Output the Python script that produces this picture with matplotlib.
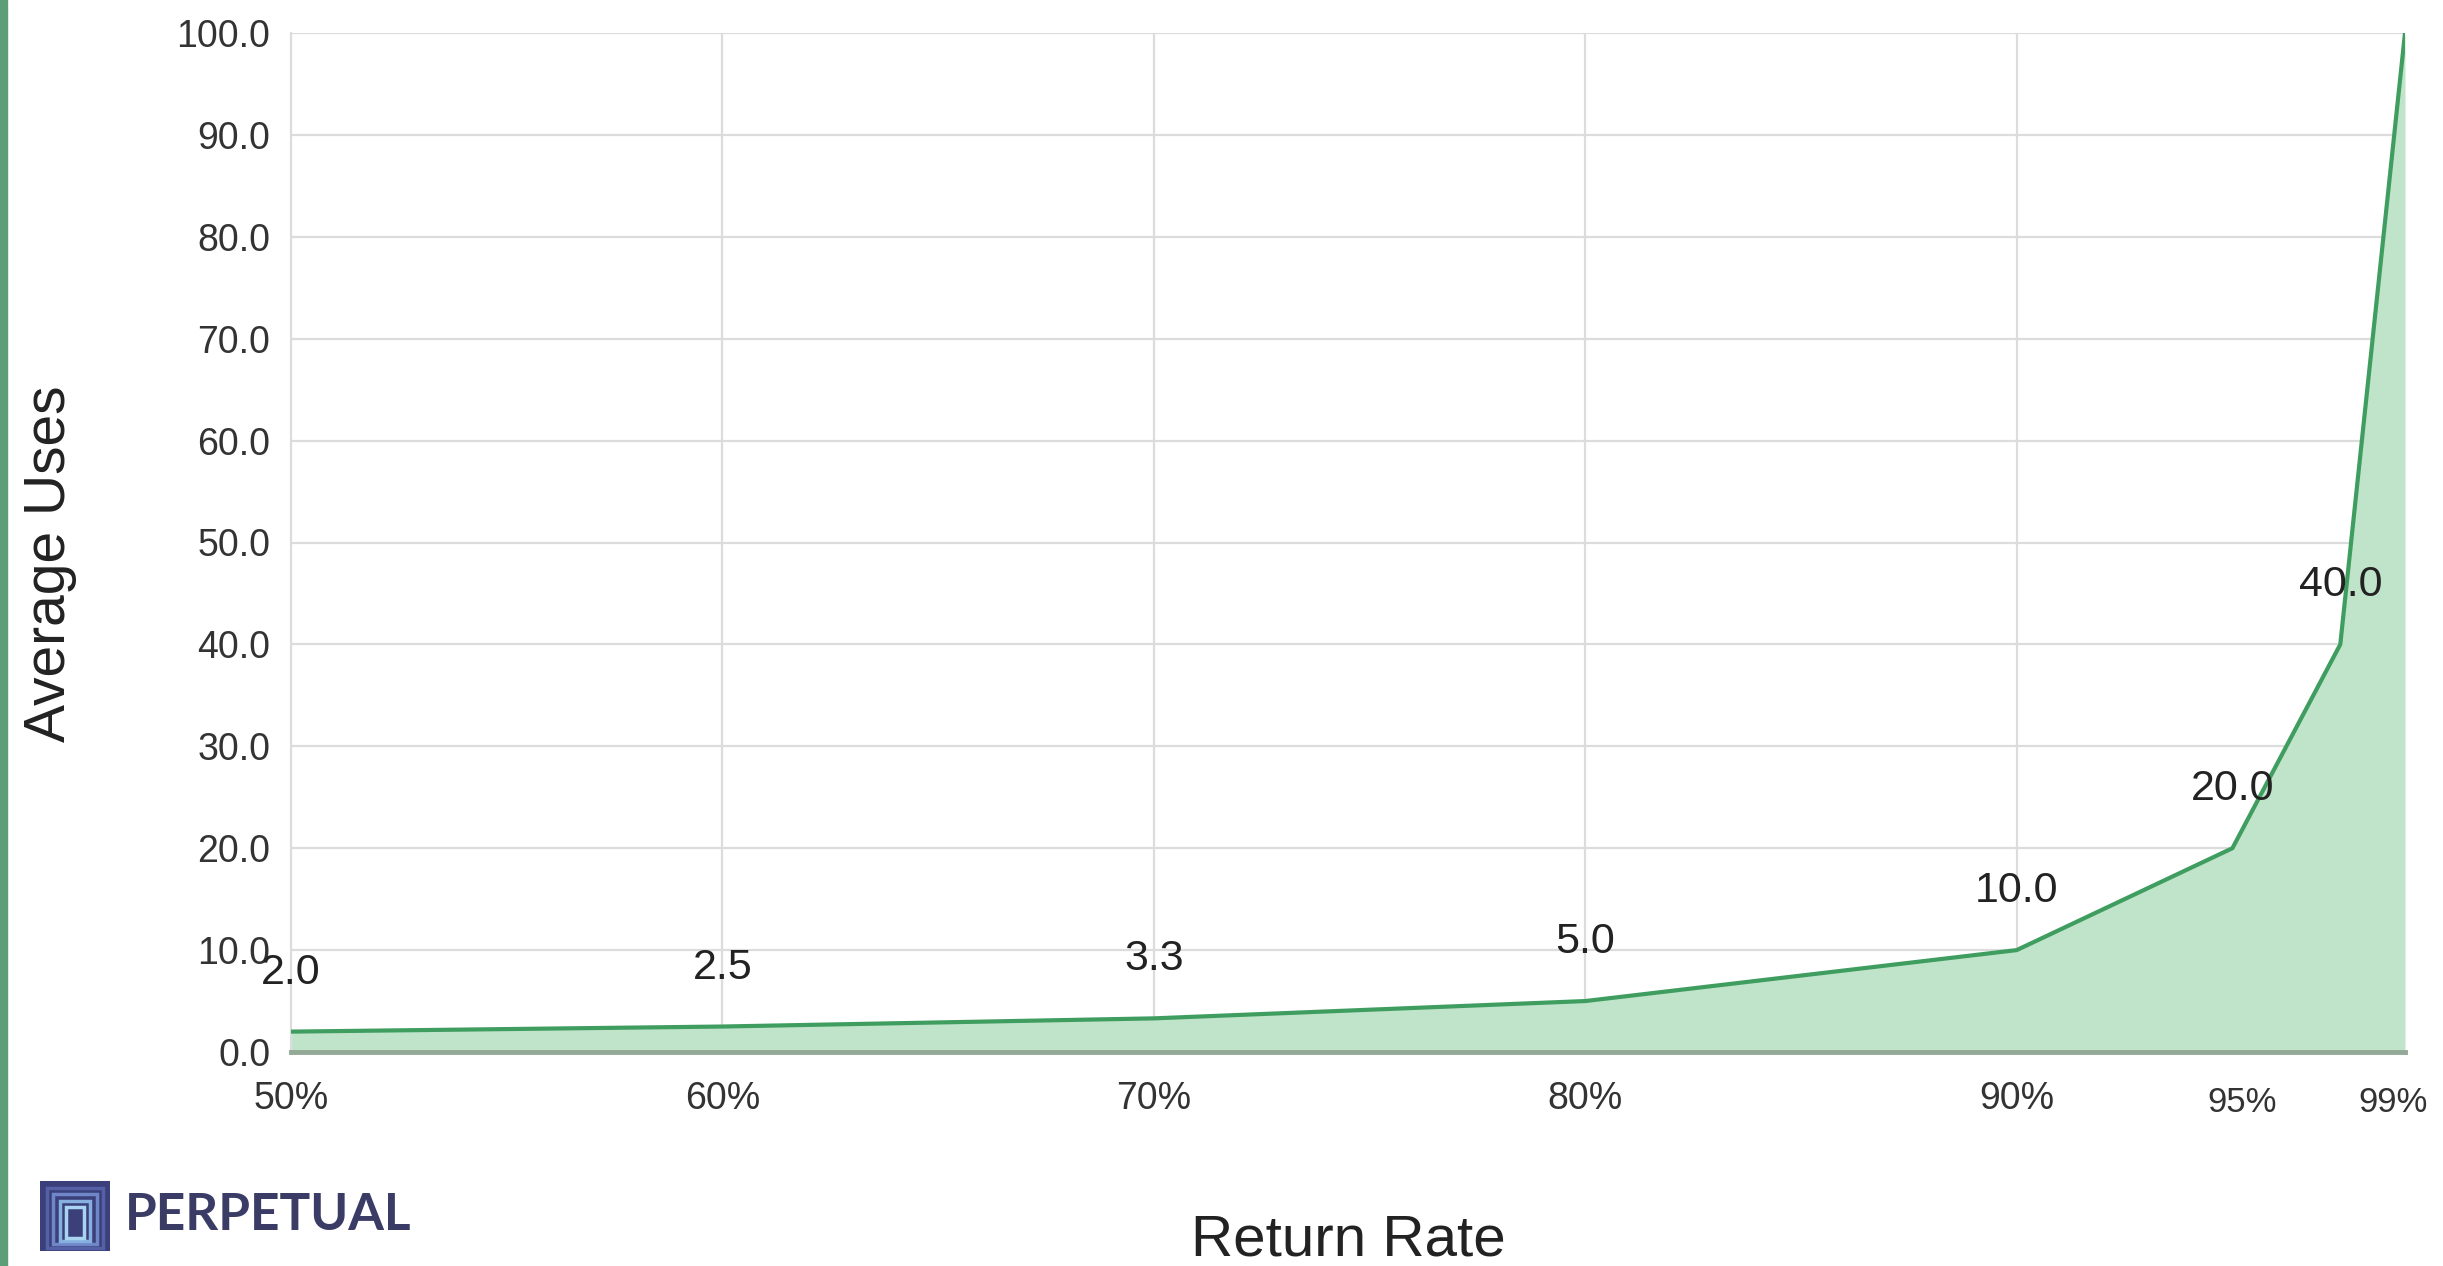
import matplotlib
matplotlib.use("Agg")
import matplotlib.pyplot as plt
from matplotlib.patches import Rectangle

# ---- data ----
return_rate = [50, 60, 70, 80, 90, 95, 97.5, 99]
average_uses = [2.0, 2.5, 3.3, 5.0, 10.0, 20.0, 40.0, 100.0]
labelled = [True, True, True, True, True, True, True, False]
x_ticks = [50, 60, 70, 80, 90]
x_tick_labels = ["50%", "60%", "70%", "80%", "90%"]
x_extra_ticks = [95, 99]
x_extra_labels = ["95%", "99%"]
x_grid = [60, 70, 80, 90]
y_ticks = [0, 10, 20, 30, 40, 50, 60, 70, 80, 90, 100]

plt.rcParams['font.family'] = ['Liberation Sans', 'DejaVu Sans']

W, H = 2443, 1266
fig = plt.figure(figsize=(W / 100, H / 100), dpi=100)
fig.patch.set_facecolor("white")

ax = fig.add_axes([291 / W, 1 - 1052 / H, (2405 - 291) / W, (1052 - 33) / H])
ax.set_xlim(50, 99)
ax.set_ylim(0, 100)

line_c = "#3f9d60"
fill_c = "#c0e4ca"

ax.fill_between(return_rate, average_uses, 0, color=fill_c, lw=0, zorder=2)
ax.plot(return_rate, average_uses, color=line_c, lw=3.0, zorder=3, solid_joinstyle='miter')

for xv, yv, show in zip(return_rate, average_uses, labelled):
    if show:
        ax.annotate(f"{yv:.1f}", (xv, yv), xytext=(0, 59), textcoords="offset pixels",
                    ha="center", va="center", fontsize=31, color="#222222", zorder=5)

# grid
ax.set_yticks(y_ticks)
ax.set_yticklabels([f"{v:.1f}" for v in y_ticks])
ax.yaxis.grid(True, color="#dcdcdc", lw=1.6, zorder=1)
ax.vlines(x_grid, 0, 100, colors="#dcdcdc", lw=1.6, zorder=1)

ax.set_xticks(x_ticks)
ax.set_xticklabels(x_tick_labels)
ax.tick_params(axis="both", length=0, labelsize=27, labelcolor="#333333")
ax.tick_params(axis="y", pad=15)
ax.tick_params(axis="x", pad=21)

# the two crowded ticks on the right, placed like the reference
for xv, lab, dx in zip(x_extra_ticks, x_extra_labels, [10, -12]):
    ax.annotate(lab, (xv, 0), xycoords=("data", "axes fraction"),
                xytext=(dx, -50), textcoords="offset pixels",
                ha="center", va="center", fontsize=25, color="#333333")

for s in ["top", "right"]:
    ax.spines[s].set_visible(False)
ax.spines["left"].set_color("#dcdcdc")
ax.spines["left"].set_linewidth(1.6)
ax.spines["bottom"].set_color("#93a897")
ax.spines["bottom"].set_linewidth(3.5)
ax.spines["bottom"].set_zorder(4)

# axis titles
fig.text(50 / W, 1 - 564 / H, "Average Uses", rotation=90, ha="center", va="center",
         fontsize=41, color="#222222")
fig.text(1348 / W, 1 - 1240 / H, "Return Rate", ha="center", va="center",
         fontsize=42, color="#222222")

# left green strip
fig.patches.append(Rectangle((0, 0), 7 / W, 1, transform=fig.transFigure,
                             color="#5c9e77", zorder=0))

# logo icon
lax = fig.add_axes([40 / W, 1 - 1251 / H, 70 / W, 70 / H])
lax.set_xlim(0, 10)
lax.set_ylim(0, 10)
lax.axis("off")
lax.add_patch(Rectangle((0, 0), 10, 10, facecolor="#3b3f7a", edgecolor="none"))
cols = ["#5660a6", "#6f86c8", "#86b0e0", "#a8d4f2"]
for i, c in enumerate(cols):
    o = 1.0 + i * 0.9
    lax.add_patch(Rectangle((o, o * 0.5), 10 - 2 * o, 10 - 1.5 * o, facecolor="none",
                            edgecolor=c, lw=2.5))
fig.text(125 / W, 1 - 1216 / H, "PERPETUAL", ha="left", va="center", fontsize=37,
         fontweight="bold", family=["Lato", "DejaVu Sans"], color="#3a3c66")

fig.savefig("out.png", dpi=100, facecolor="white")
